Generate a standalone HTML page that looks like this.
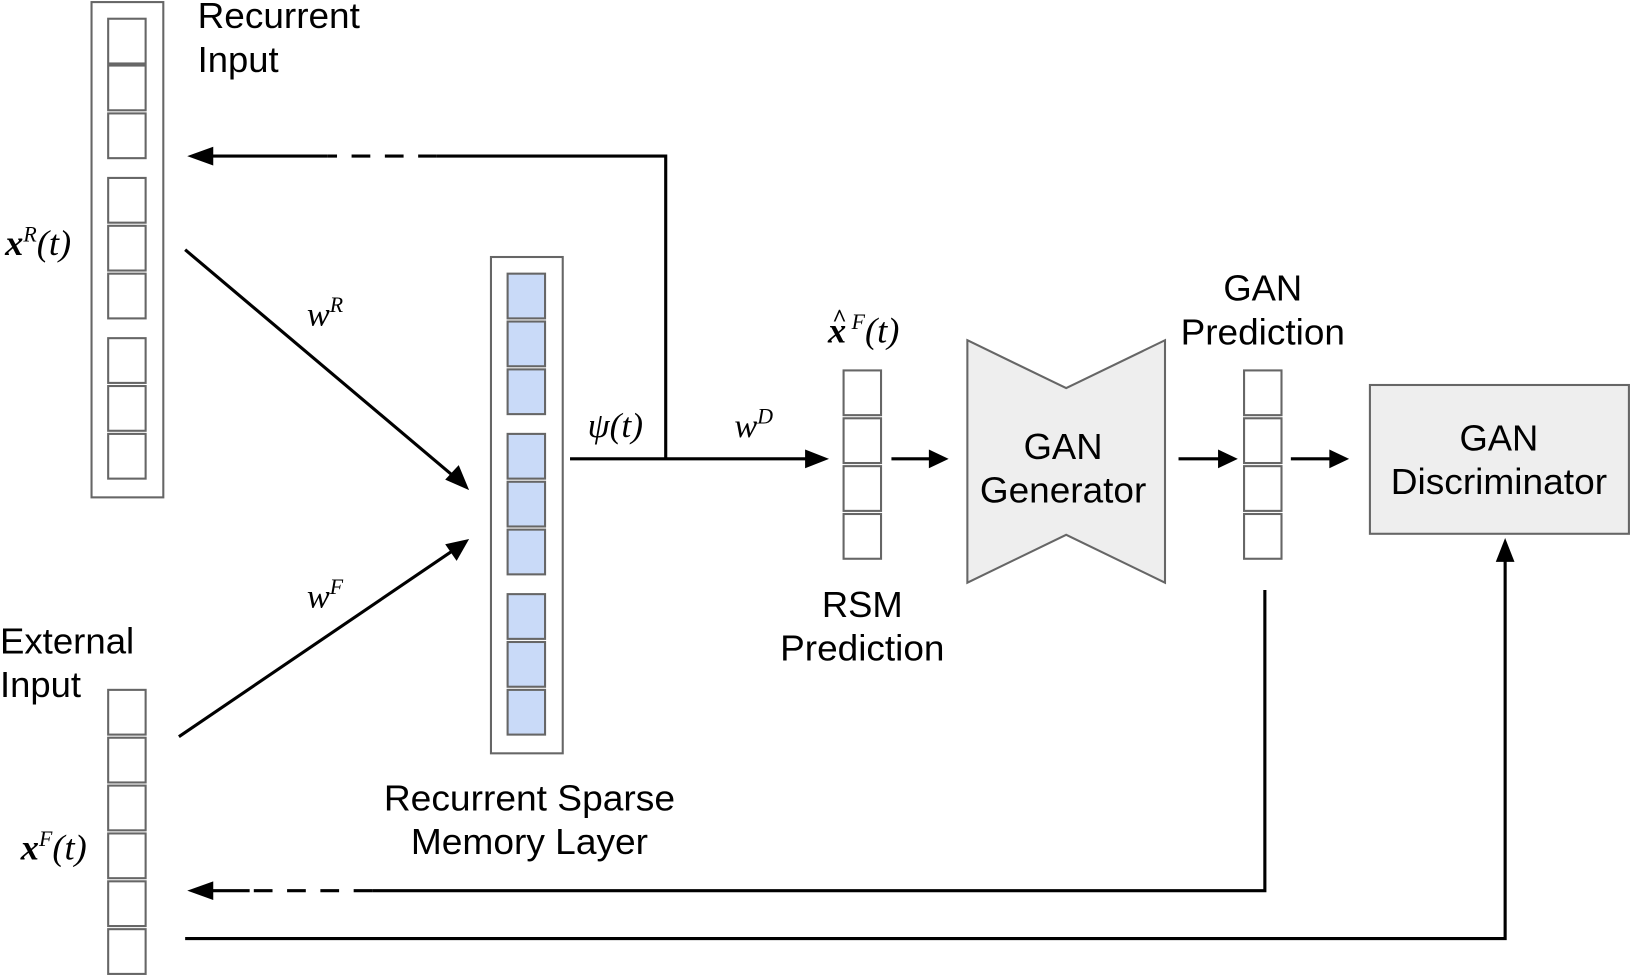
<!DOCTYPE html>
<html><head><meta charset="utf-8"><style>
html,body{margin:0;padding:0;background:#fff;}
svg{display:block;}
.t{font-family:"Liberation Sans",sans-serif;font-size:35px;fill:#000;}
.m{font-family:"Liberation Serif",serif;font-style:italic;fill:#000;}
</style></head><body>
<svg width="1631" height="976" viewBox="0 0 1568 938" preserveAspectRatio="none" xmlns="http://www.w3.org/2000/svg">
<g fill="#fff" stroke="#666" stroke-width="2">
<rect x="88" y="2" width="69" height="476"/>
<rect x="104" y="18" width="36" height="43"/><rect x="104" y="63" width="36" height="43"/><rect x="104" y="109" width="36" height="43"/>
<rect x="104" y="171" width="36" height="43"/><rect x="104" y="217" width="36" height="43"/><rect x="104" y="263" width="36" height="43"/>
<rect x="104" y="325" width="36" height="43"/><rect x="104" y="371" width="36" height="43"/><rect x="104" y="417" width="36" height="43"/>
<rect x="104" y="663" width="36" height="43"/><rect x="104" y="709" width="36" height="43"/><rect x="104" y="755" width="36" height="43"/>
<rect x="104" y="801" width="36" height="43"/><rect x="104" y="847" width="36" height="43"/><rect x="104" y="893" width="36" height="43"/>
<rect x="472" y="247" width="69" height="477"/>
<rect x="811" y="356" width="36" height="43"/><rect x="811" y="402" width="36" height="43"/><rect x="811" y="448" width="36" height="43"/><rect x="811" y="494" width="36" height="43"/>
<rect x="1196" y="356" width="36" height="43"/><rect x="1196" y="402" width="36" height="43"/><rect x="1196" y="448" width="36" height="43"/><rect x="1196" y="494" width="36" height="43"/>
</g>
<g fill="#c9daf8" stroke="#666" stroke-width="2">
<rect x="488" y="263" width="36" height="43"/><rect x="488" y="309" width="36" height="43"/><rect x="488" y="355" width="36" height="43"/>
<rect x="488" y="417" width="36" height="43"/><rect x="488" y="463" width="36" height="43"/><rect x="488" y="509" width="36" height="43"/>
<rect x="488" y="571" width="36" height="43"/><rect x="488" y="617" width="36" height="43"/><rect x="488" y="663" width="36" height="43"/>
</g>
<polygon points="930,327 1025,373 1120,327 1120,560 1025,514 930,560" fill="#eeeeee" stroke="#666" stroke-width="2"/>
<rect x="1317" y="370" width="249" height="143" fill="#eeeeee" stroke="#666" stroke-width="2"/>
<g stroke="#000" stroke-width="3" fill="none">
<polyline points="640,441 640,150 420,150"/>
<line x1="420" y1="150" x2="315" y2="150" stroke-dasharray="18,14"/>
<line x1="315" y1="150" x2="200" y2="150"/>
<line x1="548" y1="441" x2="782" y2="441"/>
<line x1="857" y1="441" x2="897" y2="441"/>
<line x1="1133" y1="441" x2="1175" y2="441"/>
<line x1="1241" y1="441" x2="1282" y2="441"/>
<line x1="178" y1="240" x2="440" y2="461"/>
<line x1="172" y1="708" x2="440" y2="526"/>
<polyline points="1216,567 1216,856 358,856"/>
<line x1="358" y1="856" x2="240" y2="856" stroke-dasharray="18,14"/>
<line x1="240" y1="856" x2="200" y2="856"/>
<polyline points="178,902 1447,902 1447,532"/>
</g>
<g fill="#000">
<polygon points="180,150 205,141 205,159"/>
<polygon points="180,856 205,847 205,865"/>
<polygon points="797,441 774,432 774,450"/>
<polygon points="912,441 893,432 893,450"/>
<polygon points="1190,441 1171,432 1171,450"/>
<polygon points="1297,441 1278,432 1278,450"/>
<polygon points="1447,517 1438,540 1456,540"/>
<polygon points="451,471 428,461 441,447"/>
<polygon points="451,518 439,539 428,523"/>
</g>
<text class="t" x="190" y="27" textLength="156" lengthAdjust="spacingAndGlyphs">Recurrent</text>
<text class="t" x="190" y="69">Input</text>
<text class="t" x="0" y="628" textLength="129" lengthAdjust="spacingAndGlyphs">External</text>
<text class="t" x="0" y="670">Input</text>
<text class="t" x="509" y="779" text-anchor="middle" textLength="280" lengthAdjust="spacingAndGlyphs">Recurrent Sparse</text>
<text class="t" x="509" y="821" text-anchor="middle" textLength="228" lengthAdjust="spacingAndGlyphs">Memory Layer</text>
<text class="t" x="829" y="593" text-anchor="middle">RSM</text>
<text class="t" x="829" y="635" text-anchor="middle" textLength="158" lengthAdjust="spacingAndGlyphs">Prediction</text>
<text class="t" x="1214" y="289" text-anchor="middle">GAN</text>
<text class="t" x="1214" y="331" text-anchor="middle" textLength="158" lengthAdjust="spacingAndGlyphs">Prediction</text>
<text class="t" x="1022" y="441" text-anchor="middle">GAN</text>
<text class="t" x="1022" y="483" text-anchor="middle" textLength="160" lengthAdjust="spacingAndGlyphs">Generator</text>
<text class="t" x="1441" y="433" text-anchor="middle">GAN</text>
<text class="t" x="1441" y="475" text-anchor="middle" textLength="208" lengthAdjust="spacingAndGlyphs">Discriminator</text>
<text class="m" x="5" y="245" font-size="35"><tspan font-weight="bold">x</tspan><tspan font-size="21" dy="-13">R</tspan><tspan dy="13">(t)</tspan></text>
<text class="m" x="20" y="826" font-size="35"><tspan font-weight="bold">x</tspan><tspan font-size="21" dy="-13">F</tspan><tspan dy="13">(t)</tspan></text>
<text class="m" x="295" y="313" font-size="33">w<tspan font-size="21" dy="-13">R</tspan></text>
<text class="m" x="295" y="584" font-size="33">w<tspan font-size="21" dy="-13">F</tspan></text>
<text class="m" x="565" y="420" font-size="34">ψ(t)</text>
<text class="m" x="706" y="420" font-size="33">w<tspan font-size="21" dy="-13">D</tspan></text>
<text class="m" x="796" y="329" font-size="35"><tspan font-weight="bold">x</tspan><tspan font-size="21" dy="-13"> F</tspan><tspan dy="13">(t)</tspan></text>
<text class="m" x="800" y="314" font-size="24" font-weight="bold">^</text>
</svg>
</body></html>
